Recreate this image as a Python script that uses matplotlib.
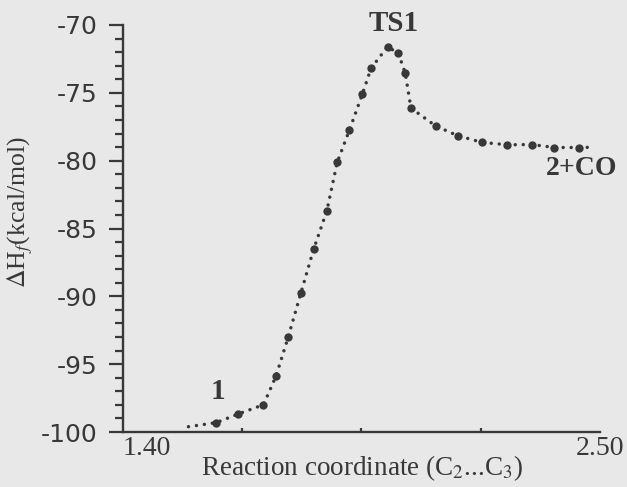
import matplotlib
matplotlib.use('Agg')
import matplotlib.pyplot as plt
from matplotlib.ticker import MultipleLocator, FixedLocator

# dotted curve (reaction path)
curve_x = [1.551, 1.615, 1.666, 1.724, 1.753, 1.781, 1.810, 1.840, 1.870, 1.894,
           1.922, 1.952, 1.972, 2.010, 2.035, 2.051, 2.064, 2.121, 2.172, 2.228,
           2.286, 2.343, 2.395, 2.452, 2.488]
curve_y = [-99.61, -99.31, -98.67, -97.99, -95.87, -93.00, -89.78, -86.49, -83.71, -80.12,
           -77.76, -75.09, -73.19, -71.60, -72.09, -73.56, -76.12, -77.44, -78.16, -78.65,
           -78.83, -78.81, -79.03, -79.03, -79.01]

# computed points (big dots)
point_x = curve_x[1:-1]
point_y = curve_y[1:-1]

x_ticks = [1.40, 2.50]
x_ticklabels = ['1.40', '2.50']
x_minor = [1.675, 1.95, 2.225, 2.50]
y_ticks = [-100, -95, -90, -85, -80, -75, -70]

bg = '#e8e8e8'
ink = '#383838'
serif = 'Liberation Serif'

plt.rcParams['mathtext.fontset'] = 'stix'

fig = plt.figure(figsize=(6.27, 4.87), dpi=100, facecolor=bg)
ax = fig.add_axes([123 / 627, 1 - 432 / 487, 477 / 627, 407 / 487])
ax.set_facecolor(bg)

ax.plot(curve_x, curve_y, color=ink, lw=2.5, linestyle=(0, (0.01, 2.3)),
        dash_capstyle='round', clip_on=False)
ax.plot(point_x, point_y, 'o', color=ink, ms=6, mec='none', clip_on=False)

ax.set_xlim(1.40, 2.50)
ax.set_ylim(-100, -70)

for s in ['top', 'right']:
    ax.spines[s].set_visible(False)
for s in ['left', 'bottom']:
    ax.spines[s].set_color(ink)
    ax.spines[s].set_linewidth(1.7)

# y axis
ax.set_yticks(y_ticks)
ax.set_yticklabels([str(v) for v in y_ticks])
ax.yaxis.set_minor_locator(MultipleLocator(1))
ax.tick_params(axis='y', which='major', length=10, width=1.6, color=ink,
               labelsize=18, labelcolor=ink, pad=8)
ax.tick_params(axis='y', which='minor', length=6, width=1.6, color=ink)

# x axis
ax.set_xticks(x_ticks)
ax.set_xticklabels(x_ticklabels, fontfamily=serif, fontsize=20, color=ink)
ax.xaxis.set_minor_locator(FixedLocator(x_minor))
ax.tick_params(axis='x', which='major', length=0, pad=3)
ax.tick_params(axis='x', which='minor', direction='in', length=3, width=1.6, color=ink)
ax.get_xticklabels()[0].set_ha('left')

ax.set_xlabel('Reaction coordinate (C$_2$...C$_3$)', fontfamily=serif, fontsize=19.5,
              color=ink, labelpad=-6)
ax.set_ylabel('$\\Delta$H$_f$(kcal/mol)', fontfamily=serif, fontsize=18.5, color=ink)
ax.yaxis.set_label_coords(-0.184, 0.54)

# annotations
ax.text(2.023, -69.9, 'TS1', fontfamily=serif, fontweight='bold', fontsize=21,
        color=ink, ha='center', va='center', clip_on=False)
ax.text(1.618, -97.0, '1', fontfamily=serif, fontweight='bold', fontsize=21,
        color=ink, ha='center', va='center')
ax.text(2.458, -80.56, '2+CO', fontfamily=serif, fontweight='bold', fontsize=20,
        color=ink, ha='center', va='center', clip_on=False)

fig.savefig('out.png', dpi=100, facecolor=bg)
